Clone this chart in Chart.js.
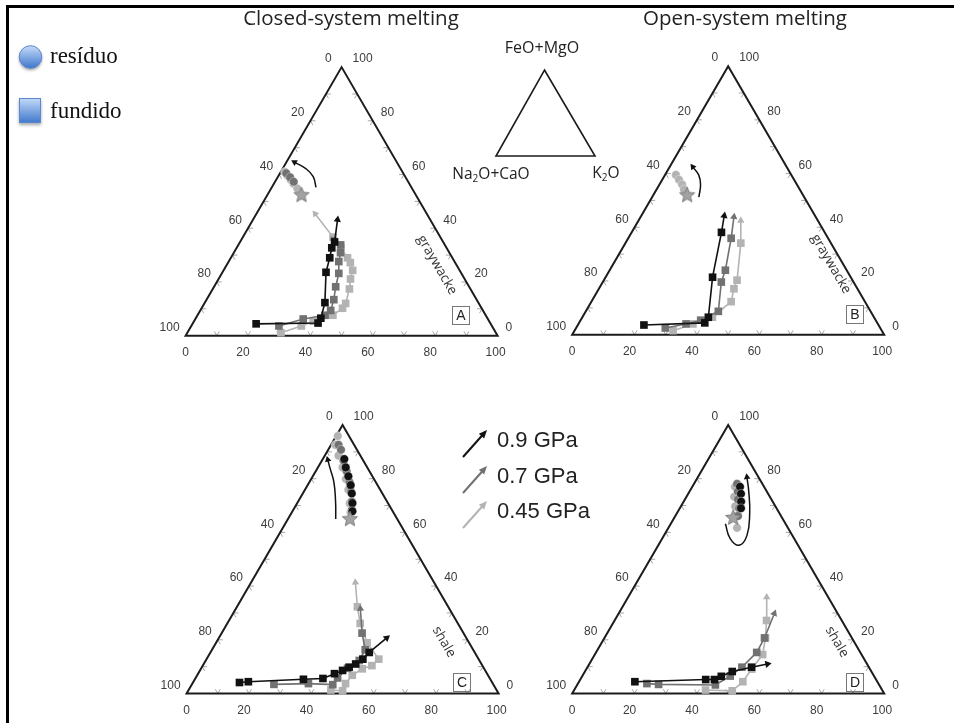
<!DOCTYPE html>
<html>
<head>
<meta charset="utf-8">
<script src="https://cdn.jsdelivr.net/npm/chart.js@4.4.1/dist/chart.umd.min.js"></script>
<style>
  html, body { margin: 0; padding: 0; background: #fff; }
  #wrap { width: 954px; height: 723px; }
</style>
</head>
<body>
<div id="wrap"><canvas id="chart" width="954" height="723"></canvas></div>
<script>
// ---- data (K2O and FeO+MgO in %, Na2O+CaO is the rest) ----
const titles = ['Closed-system melting', 'Open-system melting'];
const pressures = ['0.9 GPa', '0.7 GPa', '0.45 GPa'];
const pressureColors = ['#111111', '#717171', '#b3b3b3'];
const tickValues = [0, 20, 40, 60, 80, 100];
const legendItems = ['resíduo', 'fundido'];

// A : closed system, graywacke  (melt lines end at arrow tip)
const meltK_A = [
  [20.4, 40.1, 40.1, 38.5, 33.2, 31.7, 30.5, 30.3, 27.1],
  [28.1, 34.6, 40.9, 41.8, 40.8, 39.0, 37.5, 35.3, 34.2, 32.8, 29.5],
  [30.0, 35.3, 38.2, 43.4, 45.2, 45.3, 43.8, 42.3, 41.4, 39.2, 37.4, 33.4, 28.9, 18.8]
];
const meltF_A = [
  [4.4, 4.7, 6.5, 12.3, 23.6, 29.0, 32.7, 34.9, 43.2],
  [3.6, 6.2, 7.6, 9.4, 13.4, 18.2, 23.2, 27.6, 30.9, 33.8, 35.9],
  [1.1, 3.6, 5.4, 7.6, 10.2, 12.0, 17.4, 21.1, 24.3, 27.2, 29.0, 32.7, 36.7, 45.4]
];
const resK_A = [[], [2.0, 4.0, 6.0], [1.3, 3.0, 4.6, 6.3, 8.4]];
const resF_A = [[], [60.5, 59.0, 57.3], [61.0, 59.5, 58.1, 56.6, 54.8]];
const star_A = [11.0, 52.3];
const arrowK_A = [14.2, 11.3, 7.6, 2.6];
const arrowF_A = [55.2, 59.2, 62.1, 64.6];

// B : open system, graywacke
const meltK_B = [
  [21.2, 40.3, 40.4, 34.3, 28.8, 26.6],
  [28.6, 34.5, 38.5, 42.5, 38.0, 37.1, 33.0, 29.9],
  [31.6, 36.7, 41.7, 44.8, 43.3, 42.7, 37.0, 32.8]
];
const meltF_B = [
  [3.6, 4.4, 6.5, 21.4, 38.1, 44.3],
  [2.5, 4.0, 5.4, 8.7, 19.6, 24.0, 35.9, 43.9],
  [1.5, 4.0, 6.5, 12.3, 17.1, 20.3, 34.1, 42.5]
];
const resK_B = [[], [], [3.5, 5.4, 7.3, 8.8]];
const resF_B = [[], [], [59.5, 57.7, 55.9, 54.1]];
const star_B = [10.9, 51.9];
const arrowK_B = [15.0, 13.2, 10.8, 7.4];
const arrowF_B = [51.2, 55.9, 59.5, 62.5];

// C : closed system, shale
const meltK_C = [
  [14.9, 17.6, 34.8, 40.9, 43.7, 45.7, 47.2, 48.7, 50.1, 50.9, 53.8],
  [26.3, 37.2, 45.2, 45.5, 46.9, 49.2, 49.1, 45.0, 39.9],
  [45.6, 49.5, 49.1, 49.7, 51.7, 54.2, 55.2, 48.4, 42.6, 38.6, 33.4]
];
const meltF_C = [
  [4.1, 4.4, 5.3, 5.6, 7.4, 8.6, 9.8, 11.0, 12.8, 15.3, 20.7],
  [3.4, 3.7, 3.3, 5.8, 9.4, 12.3, 16.3, 22.5, 31.6],
  [1.3, 1.0, 3.7, 6.8, 9.2, 10.4, 12.8, 18.9, 26.1, 32.3, 41.4]
];
const resK_C = [
  [6.9, 8.9, 11.4, 13.8, 15.7, 17.7, 19.2],
  [2.4, 4.1, 6.9, 9.9, 12.8, 15.1, 17.2, 18.8],
  [0.5, 1.4, 4.4, 7.9, 11.1, 13.9, 16.9, 18.8]
];
const resF_C = [
  [87.3, 84.2, 80.9, 77.6, 74.5, 70.9, 67.9],
  [92.6, 90.8, 86.8, 82.8, 78.8, 75.2, 71.5, 68.3],
  [95.9, 92.6, 88.6, 84.2, 79.9, 75.9, 70.8, 67.5]
];
const star_C = [19.9, 64.9];
const arrowK_C = [15.3, 12.0, 7.8, 3.8, 1.7];
const arrowF_C = [65.0, 71.5, 78.8, 84.2, 87.1];

// D : open system, shale
const meltK_D = [
  [17.9, 40.2, 43.0, 44.6, 47.2, 52.6, 57.1],
  [22.1, 26.0, 44.3, 47.4, 49.5, 51.5, 51.3, 49.9],
  [42.1, 50.8, 52.5, 53.0, 53.8, 51.6, 48.7, 44.4]
];
const meltF_D = [
  [4.4, 5.2, 5.2, 6.4, 8.2, 9.8, 11.0],
  [3.7, 3.4, 3.2, 6.5, 9.8, 15.3, 20.7, 29.8],
  [1.3, 1.0, 4.4, 9.1, 14.5, 20.7, 27.2, 35.9]
];
const resK_D = [
  [15.3, 16.9, 18.4, 19.6],
  [13.8, 15.5, 17.0, 19.0, 20.1],
  [13.7, 15.3, 17.4, 19.5, 22.0]
];
const resF_D = [
  [77.0, 74.4, 71.5, 69.0],
  [78.1, 75.2, 72.3, 69.0, 66.1],
  [77.0, 73.3, 69.7, 66.1, 61.7]
];
const star_D = [18.9, 65.4];
const arrowK_D = [17.5, 21.8, 25.9, 26.6, 23.3, 19.0, 15.7];
const arrowF_D = [63.2, 57.7, 55.2, 58.8, 67.2, 75.2, 80.6];

// ---- layout ----
const W = 954, H = 723;
const SIDE = 318;              // triangle side in px
const PX = SIDE / 100;         // px per % unit
const panels = ['A', 'B', 'C', 'D'];
const panelOrigin = { A: [180, 335], B: [574, 334], C: [181, 702], D: [574, 702] };
const panelRock = { A: 'graywacke', B: 'graywacke', C: 'shale', D: 'shale' };

const source = {
  A: { meltK: meltK_A, meltF: meltF_A, resK: resK_A, resF: resF_A, star: star_A, arrowK: arrowK_A, arrowF: arrowF_A },
  B: { meltK: meltK_B, meltF: meltF_B, resK: resK_B, resF: resF_B, star: star_B, arrowK: arrowK_B, arrowF: arrowF_B },
  C: { meltK: meltK_C, meltF: meltF_C, resK: resK_C, resF: resF_C, star: star_C, arrowK: arrowK_C, arrowF: arrowF_C },
  D: { meltK: meltK_D, meltF: meltF_D, resK: resK_D, resF: resF_D, star: star_D, arrowK: arrowK_D, arrowF: arrowF_D }
};

const SQ3 = Math.sqrt(3) / 2;
function tern(k, f) { return { x: k + f / 2, y: f * SQ3 }; }
function pts(K, F) { return K.map((k, i) => tern(k, F[i])); }
function tipAngle(p) {
  const a = p[p.length - 2], b = p[p.length - 1];
  return Math.atan2(b.x - a.x, b.y - a.y) * 180 / Math.PI;
}

function makeStar(r, fill, stroke) {
  const c = document.createElement('canvas');
  c.width = c.height = 2 * r + 4;
  const g = c.getContext('2d');
  g.beginPath();
  for (let i = 0; i < 10; i++) {
    const rad = i % 2 === 0 ? r : r * 0.45;
    const a = -Math.PI / 2 + i * Math.PI / 5;
    const x = r + 2 + rad * Math.cos(a), y = r + 2 + rad * Math.sin(a);
    if (i === 0) g.moveTo(x, y); else g.lineTo(x, y);
  }
  g.closePath();
  g.fillStyle = fill; g.fill();
  g.strokeStyle = stroke; g.lineWidth = 1; g.stroke();
  return c;
}
const starImg = makeStar(8, '#a2a2a2', '#7d7d7d');

const datasets = [];
const scales = { x: { display: false }, y: { display: false } };
panels.forEach(id => {
  const [x0, y0] = panelOrigin[id];
  scales['x' + id] = { type: 'linear', display: false, min: -x0 / PX, max: (W - x0) / PX };
  scales['y' + id] = { type: 'linear', display: false, min: (y0 - H) / PX, max: y0 / PX };
  const s = source[id];
  const axes = { xAxisID: 'x' + id, yAxisID: 'y' + id };

  // curved arrow showing residue evolution
  const ad = pts(s.arrowK, s.arrowF);
  const al = ad.length - 1;
  datasets.push(Object.assign({
    label: 'trend ' + id, data: ad, showLine: true, tension: 0.45,
    borderColor: '#111', borderWidth: 1.5,
    pointStyle: 'triangle',
    pointRadius: ad.map((_, j) => j === al ? 3.8 : 0),
    pointRotation: ad.map((_, j) => j === al ? tipAngle(ad) : 0),
    pointBackgroundColor: '#111', pointBorderWidth: 0, order: 9
  }, axes));

  // residue (resíduo)
  s.resK.forEach((K, i) => {
    if (!K.length) return;
    datasets.push(Object.assign({
      label: 'resíduo ' + pressures[i] + ' ' + id, data: pts(K, s.resF[i]), showLine: false,
      pointStyle: 'circle', pointRadius: 4.3,
      pointBackgroundColor: pressureColors[i], pointBorderColor: 'rgba(255,255,255,0.6)', pointBorderWidth: 0.6,
      order: 6 + i
    }, axes));
  });

  // starting composition
  datasets.push(Object.assign({
    label: 'start ' + id, data: [tern(s.star[0], s.star[1])], showLine: false,
    pointStyle: starImg, pointRadius: 8, order: 5
  }, axes));

  // melt (fundido)
  s.meltK.forEach((K, i) => {
    const data = pts(K, s.meltF[i]);
    const last = data.length - 1;
    datasets.push(Object.assign({
      label: 'fundido ' + pressures[i] + ' ' + id, data, showLine: true,
      borderColor: pressureColors[i], borderWidth: 1.6,
      pointStyle: data.map((_, j) => j === last ? 'triangle' : 'rect'),
      pointRadius: data.map((_, j) => j === last ? 4.2 : 5.4),
      pointRotation: data.map((_, j) => j === last ? tipAngle(data) : 0),
      pointBackgroundColor: pressureColors[i], pointBorderWidth: 0,
      order: i
    }, axes));
  });
});

function toPx(chart, id, k, f) {
  const p = tern(k, f);
  return [chart.scales['x' + id].getPixelForValue(p.x), chart.scales['y' + id].getPixelForValue(p.y)];
}

// triangle frame, ticks and tick labels
const ternaryFrame = {
  id: 'ternaryFrame',
  beforeDatasetsDraw(chart) {
    const ctx = chart.ctx;
    ctx.save();
    panels.forEach(id => {
      // little grid ticks every 10 %
      ctx.strokeStyle = '#a8a8a8'; ctx.lineWidth = 1;
      const L = 5;
      for (let v = 10; v < 100; v += 10) {
        const b = toPx(chart, id, v, 0);
        const l = toPx(chart, id, 0, 100 - v);
        const r = toPx(chart, id, 100 - v, v);
        ctx.beginPath();
        ctx.moveTo(b[0] - 0.5 * L, b[1] - SQ3 * L); ctx.lineTo(b[0], b[1]); ctx.lineTo(b[0] + 0.5 * L, b[1] - SQ3 * L);
        ctx.moveTo(l[0] + L, l[1]); ctx.lineTo(l[0], l[1]); ctx.lineTo(l[0] + 0.5 * L, l[1] + SQ3 * L);
        ctx.moveTo(r[0] - L, r[1]); ctx.lineTo(r[0], r[1]); ctx.lineTo(r[0] - 0.5 * L, r[1] + SQ3 * L);
        ctx.stroke();
      }
      const bl = toPx(chart, id, 0, 0), br = toPx(chart, id, 100, 0), top = toPx(chart, id, 0, 100);
      ctx.strokeStyle = '#1c1c1c'; ctx.lineWidth = 2; ctx.lineJoin = 'miter';
      ctx.beginPath();
      ctx.moveTo(bl[0], bl[1]); ctx.lineTo(br[0], br[1]); ctx.lineTo(top[0], top[1]); ctx.closePath();
      ctx.stroke();
    });
    ctx.restore();
  },
  afterDatasetsDraw(chart) {
    const ctx = chart.ctx;
    ctx.save();
    panels.forEach(id => {
      const [x0, y0] = panelOrigin[id];
      ctx.fillStyle = '#3c3c3c';
      ctx.font = '12px "Liberation Sans", Arial, sans-serif';
      ctx.textBaseline = 'middle';
      tickValues.forEach(v => {
        // bottom: K2O
        const b = toPx(chart, id, v, 0);
        ctx.textAlign = 'center';
        ctx.fillText(String(v), b[0] - (v > 0 && v < 100 ? 5 : (v === 100 ? 2 : 0)), b[1] + 17);
        // left: Na2O+CaO
        const l = toPx(chart, id, 0, 100 - v);
        ctx.textAlign = 'right';
        ctx.fillText(String(v), l[0] - (v === 0 ? 10 : 6), l[1] - 8);
        // right: FeO+MgO
        const r = toPx(chart, id, 100 - v, v);
        ctx.textAlign = 'left';
        ctx.fillText(String(v), r[0] + (v === 100 ? 11 : 8), r[1] - 8);
      });
      // panel letter
      const cx = x0 + 281, cy = y0 - 19;
      ctx.strokeStyle = '#777'; ctx.lineWidth = 1;
      ctx.strokeRect(cx - 8.5, cy - 9.5, 17, 18);
      ctx.fillStyle = '#222';
      ctx.font = '14px "Liberation Sans", Arial, sans-serif';
      ctx.textAlign = 'center';
      ctx.fillText(id, cx, cy + 0.5);
      // rock type along the right side
      const rock = panelRock[id];
      const off = rock === 'shale' ? [263, -60] : [257, -70];
      ctx.save();
      ctx.translate(x0 + off[0], y0 + off[1]);
      ctx.rotate(Math.PI / 3);
      ctx.font = '13.5px "Open Sans", Arial, sans-serif';
      ctx.fillStyle = '#333';
      ctx.fillText(rock, 0, 0);
      ctx.restore();
    });
    ctx.restore();
  }
};

function drawChem(ctx, parts, x, y, size, align) {
  const big = size + 'px "Open Sans", sans-serif';
  const small = Math.round(size * 0.65) + 'px "Open Sans", sans-serif';
  let total = 0;
  parts.forEach(p => { ctx.font = p[1] ? small : big; total += ctx.measureText(p[0]).width; });
  let cx = align === 'center' ? x - total / 2 : x;
  ctx.textAlign = 'left';
  parts.forEach(p => {
    ctx.font = p[1] ? small : big;
    ctx.fillText(p[0], cx, p[1] ? y + size * 0.3 : y);
    cx += ctx.measureText(p[0]).width;
  });
}

function drawArrow(ctx, x1, y1, x2, y2, color) {
  const a = Math.atan2(y2 - y1, x2 - x1);
  ctx.strokeStyle = color; ctx.fillStyle = color; ctx.lineWidth = 2;
  ctx.beginPath(); ctx.moveTo(x1, y1); ctx.lineTo(x2 - 5 * Math.cos(a), y2 - 5 * Math.sin(a)); ctx.stroke();
  ctx.beginPath();
  ctx.moveTo(x2, y2);
  ctx.lineTo(x2 - 9 * Math.cos(a - 0.4), y2 - 9 * Math.sin(a - 0.4));
  ctx.lineTo(x2 - 9 * Math.cos(a + 0.4), y2 - 9 * Math.sin(a + 0.4));
  ctx.closePath(); ctx.fill();
}

// titles, frame, legends and the small key triangle
const decorations = {
  id: 'decorations',
  afterDraw(chart) {
    const ctx = chart.ctx;
    ctx.save();
    ctx.strokeStyle = '#000'; ctx.lineWidth = 3;
    ctx.beginPath(); ctx.moveTo(7.5, H); ctx.lineTo(7.5, 6.5); ctx.lineTo(W, 6.5); ctx.stroke();

    ctx.fillStyle = '#222';
    ctx.font = '20.5px "Open Sans", sans-serif';
    ctx.textAlign = 'center'; ctx.textBaseline = 'middle';
    ctx.fillText(titles[0], 351, 19);
    ctx.fillText(titles[1], 745, 19);

    // resíduo / fundido legend
    let g = ctx.createLinearGradient(0, 46, 0, 68);
    g.addColorStop(0, '#c4dbf8'); g.addColorStop(1, '#3f77cc');
    ctx.shadowColor = 'rgba(0,0,0,0.35)'; ctx.shadowBlur = 3; ctx.shadowOffsetY = 2;
    ctx.fillStyle = g;
    ctx.beginPath(); ctx.arc(30.5, 57, 11.3, 0, Math.PI * 2); ctx.fill();
    g = ctx.createLinearGradient(0, 98, 0, 123);
    g.addColorStop(0, '#c4dbf8'); g.addColorStop(1, '#3f77cc');
    ctx.fillStyle = g;
    ctx.fillRect(19, 98, 22, 25);
    ctx.shadowColor = 'transparent'; ctx.shadowBlur = 0; ctx.shadowOffsetY = 0;
    ctx.strokeStyle = '#5a87cf'; ctx.lineWidth = 1;
    ctx.beginPath(); ctx.arc(30.5, 57, 11.3, 0, Math.PI * 2); ctx.stroke();
    ctx.strokeRect(19.5, 98.5, 21, 24);
    ctx.fillStyle = '#111';
    ctx.font = '23px "Liberation Serif", "Times New Roman", serif';
    ctx.textAlign = 'left';
    ctx.fillText(legendItems[0], 50, 57);
    ctx.fillText(legendItems[1], 50, 112);

    // key triangle
    ctx.strokeStyle = '#1c1c1c'; ctx.lineWidth = 1.6;
    ctx.beginPath(); ctx.moveTo(544.5, 70); ctx.lineTo(595, 156); ctx.lineTo(496, 156); ctx.closePath(); ctx.stroke();
    ctx.fillStyle = '#222';
    drawChem(ctx, [['FeO+MgO', 0]], 542, 48, 16, 'center');
    drawChem(ctx, [['Na', 0], ['2', 1], ['O+CaO', 0]], 491, 175, 15.5, 'center');
    drawChem(ctx, [['K', 0], ['2', 1], ['O', 0]], 606, 174, 15.5, 'center');

    // pressure legend
    const ys = [441, 477, 512];
    pressures.forEach((p, i) => {
      drawArrow(ctx, 463, ys[i] + 16, 487, ys[i] - 11, pressureColors[i]);
      ctx.fillStyle = '#222';
      ctx.font = '22px "Liberation Sans", Arial, sans-serif';
      ctx.textAlign = 'left';
      ctx.fillText(p, 497, ys[i]);
    });
    ctx.restore();
  }
};

new Chart(document.getElementById('chart'), {
  type: 'scatter',
  data: { datasets },
  options: {
    responsive: false,
    maintainAspectRatio: false,
    animation: false,
    events: [],
    layout: { padding: 0 },
    scales,
    plugins: { legend: { display: false }, tooltip: { enabled: false }, title: { display: false } }
  },
  plugins: [ternaryFrame, decorations]
});
</script>
</body>
</html>
